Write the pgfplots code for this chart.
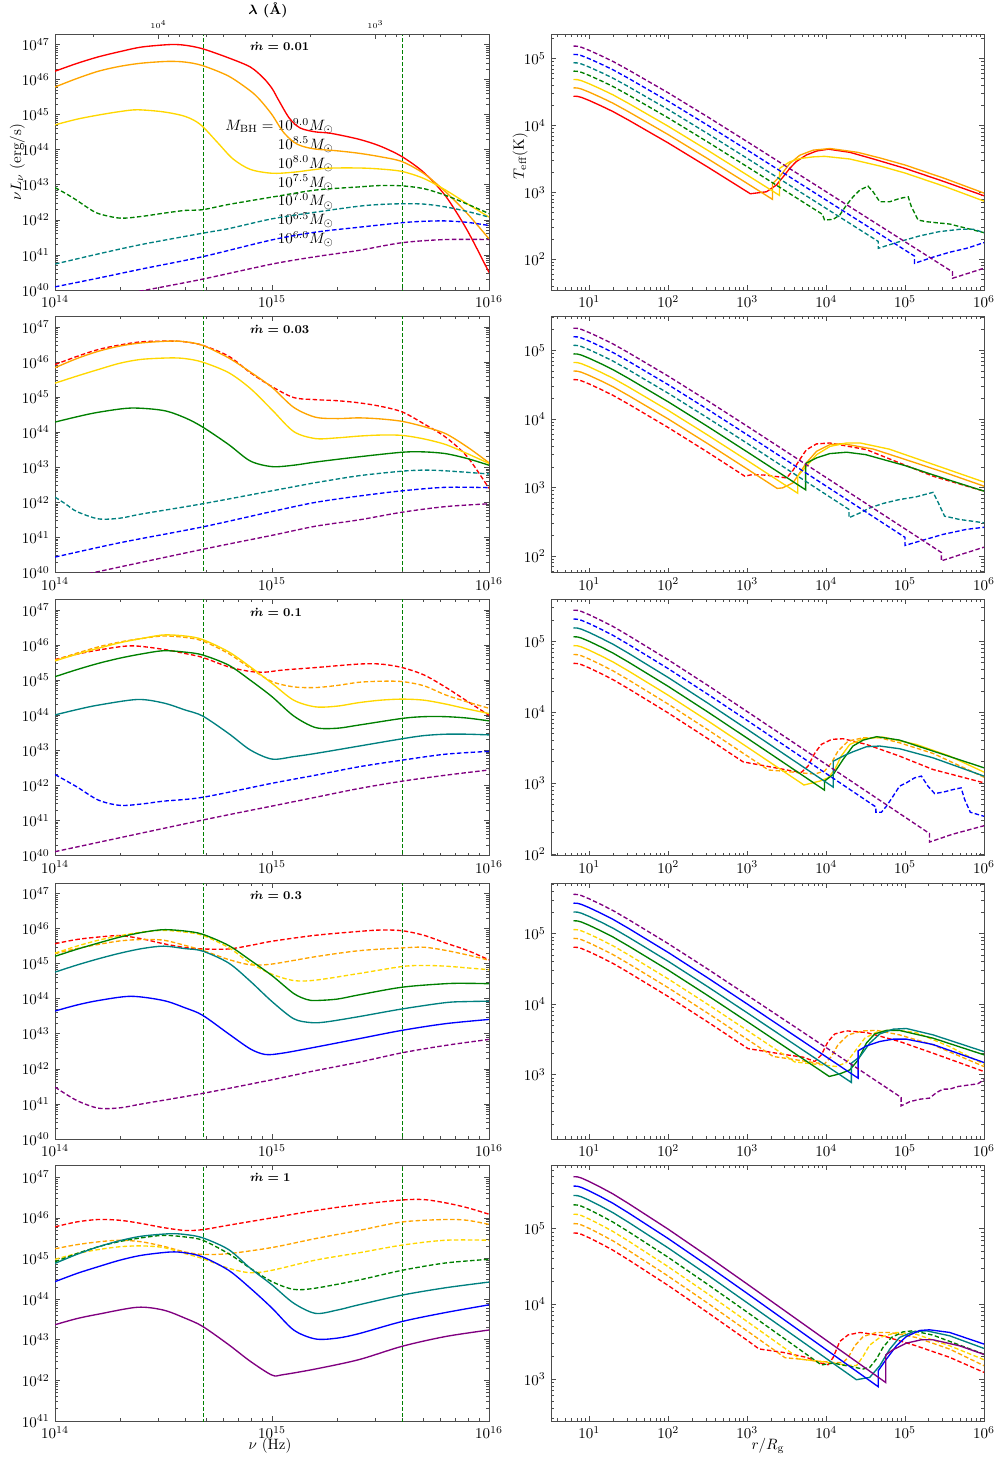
\documentclass[border=0pt]{standalone}
\usepackage{pgfplots}
\pgfplotsset{compat=1.18}
\definecolor{cR}{HTML}{FF0000}
\definecolor{cO}{HTML}{FFA500}
\definecolor{cY}{HTML}{FFD700}
\definecolor{cG}{HTML}{008000}
\definecolor{cT}{HTML}{008080}
\definecolor{cB}{HTML}{0000FF}
\definecolor{cP}{HTML}{800080}
\tikzset{ds/.style={dash pattern=on 3pt off 1.6pt},
  mdot/.style={anchor=west, font=\footnotesize\bfseries\boldmath, inner sep=0pt}}
\pgfplotsset{
  base/.style={scale only axis, anchor=north west, height=170.67pt,
    axis line style={black!70, line width=0.5pt},
    tick style={black!70, line width=0.5pt},
    major tick length=3.2pt, minor tick length=1.8pt, tick align=inside,
    yticklabel={$10^{\pgfmathprintnumber[fixed,precision=0]{\tick}}$},
    every axis plot/.append style={line width=0.9pt},
  },
  L/.style={base, width=289.33pt, xmin=14, xmax=16, ymax=47.301,
    xtick={14,15,16}, xticklabels={$10^{14}$,$10^{15}$,$10^{16}$},
    minor xtick={14.301,14.477,14.602,14.699,14.778,14.845,14.903,14.954,15.301,15.477,15.602,15.699,15.778,15.845,15.903,15.954},
    ytick={40,41,42,43,44,45,46,47},
    minor ytick={40.301,40.477,40.602,40.699,40.778,40.845,40.903,40.954,41.301,41.477,41.602,41.699,41.778,41.845,41.903,41.954,42.301,42.477,42.602,42.699,42.778,42.845,42.903,42.954,43.301,43.477,43.602,43.699,43.778,43.845,43.903,43.954,44.301,44.477,44.602,44.699,44.778,44.845,44.903,44.954,45.301,45.477,45.602,45.699,45.778,45.845,45.903,45.954,46.301,46.477,46.602,46.699,46.778,46.845,46.903,46.954},
    every axis plot/.append style={smooth},
  },
  R/.style={base, width=288.67pt, xmin=0.515, xmax=6,
    xtick={1,2,3,4,5,6}, xticklabels={$10^{1}$,$10^{2}$,$10^{3}$,$10^{4}$,$10^{5}$,$10^{6}$},
    minor xtick={0.602,0.699,0.778,0.845,0.903,0.954,1.301,1.477,1.602,1.699,1.778,1.845,1.903,1.954,2.301,2.477,2.602,2.699,2.778,2.845,2.903,2.954,3.301,3.477,3.602,3.699,3.778,3.845,3.903,3.954,4.301,4.477,4.602,4.699,4.778,4.845,4.903,4.954,5.301,5.477,5.602,5.699,5.778,5.845,5.903,5.954},
    ytick={2,3,4,5},
    minor ytick={1.602,1.699,1.778,1.845,1.903,1.954,2.301,2.477,2.602,2.699,2.778,2.845,2.903,2.954,3.301,3.477,3.602,3.699,3.778,3.845,3.903,3.954,4.301,4.477,4.602,4.699,4.778,4.845,4.903,4.954,5.301,5.477,5.602,5.699,5.778,5.845},
  },
}
\newcommand{\vlines}{%
  \addplot[draw=none, forget plot] coordinates {(15,44)};
  \addplot[cG,sharp plot,dash pattern=on 2.6pt off 1.4pt,line width=0.65pt] coordinates {(14.686,38)(14.686,48)};
  \addplot[cG,sharp plot,dash pattern=on 2.6pt off 1.4pt,line width=0.65pt] coordinates {(15.6,38)(15.6,48)};}
\begin{document}
\begin{tikzpicture}
\useasboundingbox (0,0) rectangle (665.33pt,-972.67pt);
\node[font=\small\bfseries\boldmath, inner sep=0pt] at (178.67pt,-6.9pt) {$\lambda$ (\AA)};
\begin{scope}[every node/.style={anchor=base east, inner sep=0pt, font=\fontsize{10.4}{12.5}\selectfont}]
\node at (222.7pt,-87.1pt) {$M_{\mathrm{BH}}=10^{9.0}M_{\odot}$};
\node at (222.7pt,-99.6pt) {$10^{8.5}M_{\odot}$};
\node at (222.7pt,-112.2pt) {$10^{8.0}M_{\odot}$};
\node at (222.7pt,-124.7pt) {$10^{7.5}M_{\odot}$};
\node at (222.7pt,-137.2pt) {$10^{7.0}M_{\odot}$};
\node at (222.7pt,-149.8pt) {$10^{6.5}M_{\odot}$};
\node at (222.7pt,-162.3pt) {$10^{6.0}M_{\odot}$};
\end{scope}
\node[rotate=90, inner sep=0pt] at (11.5pt,-108pt) {$\nu L_\nu\ (\mathrm{erg/s})$};
\node[rotate=90, inner sep=0pt] at (346.7pt,-104pt) {$T_{\mathrm{eff}}(\mathrm{K})$};
\node[inner sep=0pt] at (180pt,-964pt) {$\nu\ (\mathrm{Hz})$};
\node[inner sep=0pt] at (512pt,-964pt) {$r/R_{\mathrm{g}}$};
% ================= LEFT 1 =================
\begin{axis}[L, at={(36.67pt,-22.67pt)}, ymin=40, xtick pos=left]
\vlines
\addplot[cR] coordinates {(14,46.24)(14.1,46.46)(14.2,46.65)(14.3,46.8)(14.4,46.93)(14.53,47.0)(14.6,46.98)(14.68,46.88)(14.8,46.62)(14.9,46.36)(14.96,46.05)(15.0,45.75)(15.03,45.42)(15.08,44.9)(15.13,44.62)(15.2,44.51)(15.27,44.47)(15.4,44.3)(15.5,44.1)(15.6,43.8)(15.7,43.35)(15.8,42.68)(15.9,41.7)(16,40.5)};
\addplot[cO] coordinates {(14,45.79)(14.1,46.03)(14.2,46.24)(14.3,46.38)(14.4,46.47)(14.52,46.52)(14.6,46.5)(14.68,46.4)(14.8,46.1)(14.9,45.68)(14.945,45.42)(15.0,45.0)(15.05,44.52)(15.1,44.22)(15.14,44.1)(15.2,44.02)(15.3,43.97)(15.4,43.9)(15.5,43.8)(15.6,43.66)(15.7,43.32)(15.8,42.8)(15.9,42.18)(16,41.46)};
\addplot[cY] coordinates {(14,44.71)(14.1,44.87)(14.2,44.99)(14.3,45.09)(14.38,45.14)(14.5,45.08)(14.6,44.95)(14.67,44.72)(14.75,44.2)(14.82,43.74)(14.9,43.44)(15.0,43.33)(15.1,43.36)(15.25,43.47)(15.4,43.48)(15.5,43.45)(15.6,43.38)(15.7,43.18)(15.8,42.85)(15.9,42.46)(16,42.08)};
\addplot[cG,ds] coordinates {(14,42.92)(14.05,42.75)(14.1,42.56)(14.15,42.35)(14.2,42.18)(14.3,42.05)(14.4,42.1)(14.5,42.19)(14.6,42.27)(14.68,42.29)(14.8,42.44)(15.0,42.65)(15.2,42.85)(15.4,42.94)(15.5,42.98)(15.6,42.97)(15.7,42.89)(15.8,42.7)(15.9,42.45)(16,42.18)};
\addplot[cT,ds] coordinates {(14,40.74)(14.2,41.03)(14.4,41.3)(14.68,41.62)(14.8,41.75)(15.0,42.03)(15.2,42.22)(15.4,42.39)(15.5,42.44)(15.6,42.46)(15.7,42.45)(15.8,42.37)(15.9,42.24)(16,42.08)};
\addplot[cB,ds] coordinates {(14,40.09)(14.2,40.34)(14.4,40.6)(14.68,40.95)(15.0,41.43)(15.2,41.65)(15.4,41.79)(15.6,41.92)(15.7,41.96)(15.8,41.97)(15.9,41.93)(16,41.84)};
\addplot[cP,ds] coordinates {(14.2,39.75)(14.42,40.0)(14.68,40.31)(15.0,40.74)(15.2,40.95)(15.4,41.13)(15.6,41.35)(15.8,41.44)(16,41.44)};
\node[mdot] at (rel axis cs:0.449,0.95) {$\dot m = 0.01$};
\end{axis}
\begin{axis}[at={(36.67pt,-22.67pt)}, anchor=north west, scale only axis, width=289.33pt, height=170.67pt,
  xmin=14, xmax=16, ymin=0, ymax=1, axis x line*=top, axis y line=none,
  axis line style={black!70, line width=0.5pt}, tick style={black!70, line width=0.5pt},
  major tick length=3.2pt, minor tick length=1.8pt, tick align=inside,
  xtick={14.477,15.477}, xticklabels={$10^4$,$10^3$}, xticklabel style={font=\tiny},
  minor xtick={14.0,14.176,14.523,14.574,14.632,14.699,14.778,14.875,15.0,15.176,15.523,15.574,15.632,15.699,15.778,15.875,16.0}]
\addplot[draw=none] coordinates {(14,0)(16,1)};
\end{axis}
% ================= LEFT 2 =================
\begin{axis}[L, at={(36.67pt,-211pt)}, ymin=40]
\vlines
\addplot[cR,ds] coordinates {(14,45.93)(14.1,46.16)(14.2,46.36)(14.3,46.49)(14.4,46.58)(14.53,46.6)(14.6,46.58)(14.68,46.48)(14.8,46.17)(14.9,45.7)(15.0,45.3)(15.1,44.99)(15.2,44.93)(15.3,44.9)(15.4,44.84)(15.5,44.74)(15.6,44.58)(15.7,44.24)(15.8,43.86)(15.9,43.3)(16,42.4)};
\addplot[cO] coordinates {(14,45.84)(14.1,46.1)(14.2,46.31)(14.3,46.46)(14.4,46.55)(14.53,46.6)(14.6,46.58)(14.68,46.48)(14.8,46.12)(14.9,45.72)(15.0,45.28)(15.1,44.71)(15.2,44.43)(15.3,44.39)(15.4,44.41)(15.5,44.38)(15.6,44.31)(15.7,44.16)(15.8,43.96)(15.9,43.58)(16,43.13)};
\addplot[cY] coordinates {(14,45.4)(14.1,45.6)(14.2,45.79)(14.3,45.97)(14.4,46.08)(14.53,46.12)(14.6,46.1)(14.68,46.0)(14.8,45.7)(14.9,45.25)(15.0,44.64)(15.1,44.02)(15.2,43.82)(15.3,43.84)(15.4,43.89)(15.5,43.92)(15.6,43.91)(15.7,43.81)(15.8,43.65)(15.9,43.39)(16,43.11)};
\addplot[cG] coordinates {(14,44.29)(14.1,44.44)(14.2,44.57)(14.35,44.69)(14.5,44.62)(14.6,44.41)(14.68,44.15)(14.8,43.65)(14.9,43.18)(15.0,43.02)(15.1,43.06)(15.2,43.15)(15.4,43.3)(15.6,43.43)(15.7,43.44)(15.8,43.39)(15.9,43.25)(16,43.06)};
\addplot[cT,ds] coordinates {(14,42.15)(14.05,41.95)(14.1,41.74)(14.2,41.53)(14.3,41.55)(14.4,41.67)(14.68,41.96)(15.0,42.33)(15.2,42.56)(15.4,42.76)(15.6,42.89)(15.7,42.92)(15.8,42.9)(16,42.81)};
\addplot[cB,ds] coordinates {(14,40.44)(14.3,40.85)(14.68,41.3)(15.0,41.74)(15.2,42.0)(15.4,42.18)(15.6,42.33)(15.8,42.43)(16,42.42)};
\addplot[cP,ds] coordinates {(14.0,39.75)(14.18,40.0)(14.68,40.66)(15.0,41.06)(15.2,41.32)(15.4,41.5)(15.6,41.72)(15.8,41.88)(16,41.96)};
\node[mdot] at (rel axis cs:0.449,0.95) {$\dot m = 0.03$};
\end{axis}
% ================= LEFT 3 =================
\begin{axis}[L, at={(36.67pt,-399.67pt)}, ymin=40]
\vlines
\addplot[cR,ds] coordinates {(14,45.59)(14.1,45.74)(14.2,45.86)(14.35,45.98)(14.5,45.88)(14.6,45.76)(14.68,45.65)(14.8,45.38)(14.9,45.25)(14.97,45.23)(15.05,45.29)(15.2,45.36)(15.4,45.46)(15.5,45.46)(15.6,45.36)(15.7,45.15)(15.8,44.8)(15.9,44.4)(16,44.0)};
\addplot[cO,ds] coordinates {(14,45.57)(14.1,45.77)(14.2,45.95)(14.3,46.09)(14.4,46.19)(14.5,46.26)(14.6,46.22)(14.68,46.12)(14.8,45.76)(14.9,45.34)(15.0,44.96)(15.1,44.81)(15.2,44.79)(15.3,44.85)(15.4,44.94)(15.5,44.97)(15.6,44.96)(15.7,44.84)(15.8,44.58)(15.9,44.38)(16,44.2)};
\addplot[cY] coordinates {(14,45.55)(14.1,45.74)(14.2,45.91)(14.3,46.07)(14.4,46.19)(14.5,46.29)(14.6,46.26)(14.68,46.16)(14.8,45.81)(14.9,45.38)(15.0,44.91)(15.1,44.43)(15.2,44.24)(15.3,44.26)(15.4,44.36)(15.5,44.43)(15.6,44.46)(15.7,44.43)(15.8,44.32)(15.9,44.18)(16,44.05)};
\addplot[cG] coordinates {(14,45.1)(14.1,45.3)(14.2,45.48)(14.3,45.63)(14.4,45.75)(14.5,45.84)(14.6,45.8)(14.68,45.72)(14.8,45.43)(14.9,45.0)(15.0,44.53)(15.1,43.98)(15.2,43.65)(15.3,43.63)(15.4,43.72)(15.6,43.91)(15.7,43.96)(15.8,43.96)(15.9,43.92)(16,43.84)};
\addplot[cT] coordinates {(14,44.01)(14.1,44.16)(14.2,44.29)(14.38,44.45)(14.5,44.35)(14.6,44.15)(14.68,43.98)(14.8,43.48)(14.9,43.01)(15.0,42.75)(15.1,42.82)(15.2,42.91)(15.4,43.12)(15.6,43.33)(15.7,43.42)(15.8,43.46)(15.9,43.46)(16,43.44)};
\addplot[cB,ds] coordinates {(14,42.31)(14.1,41.96)(14.2,41.58)(14.3,41.43)(14.4,41.47)(14.5,41.55)(14.68,41.66)(15.0,42.06)(15.2,42.29)(15.4,42.53)(15.6,42.72)(15.8,42.89)(16,42.97)};
\addplot[cP,ds] coordinates {(14,40.11)(14.68,41.01)(15.0,41.41)(15.2,41.66)(15.4,41.91)(15.6,42.12)(15.8,42.29)(16,42.44)};
\node[mdot] at (rel axis cs:0.449,0.95) {$\dot m = 0.1$};
\end{axis}
% ================= LEFT 4 =================
\begin{axis}[L, at={(36.67pt,-588.67pt)}, ymin=40]
\vlines
\addplot[cR,ds] coordinates {(14,45.57)(14.1,45.69)(14.2,45.76)(14.3,45.8)(14.4,45.71)(14.5,45.57)(14.6,45.46)(14.68,45.42)(14.8,45.42)(14.9,45.52)(15.0,45.64)(15.2,45.81)(15.4,45.92)(15.5,45.96)(15.6,45.94)(15.7,45.81)(15.8,45.59)(15.9,45.38)(16,45.11)};
\addplot[cO,ds] coordinates {(14,45.29)(14.1,45.43)(14.2,45.55)(14.3,45.65)(14.4,45.69)(14.5,45.67)(14.6,45.52)(14.68,45.38)(14.8,45.12)(14.9,44.97)(15.0,44.99)(15.2,45.2)(15.4,45.37)(15.6,45.45)(15.7,45.47)(15.8,45.38)(15.9,45.25)(16,45.1)};
\addplot[cY,ds] coordinates {(14,45.3)(14.1,45.5)(14.2,45.67)(14.3,45.8)(14.4,45.9)(14.5,45.95)(14.6,45.9)(14.68,45.81)(14.8,45.46)(14.9,45.02)(15.0,44.7)(15.1,44.52)(15.2,44.53)(15.4,44.72)(15.6,44.92)(15.7,44.95)(15.8,44.93)(15.9,44.88)(16,44.83)};
\addplot[cG] coordinates {(14,45.21)(14.1,45.41)(14.2,45.59)(14.3,45.76)(14.4,45.89)(14.5,45.97)(14.6,45.93)(14.68,45.84)(14.8,45.52)(14.9,45.1)(15.0,44.66)(15.1,44.15)(15.16,43.98)(15.2,43.95)(15.3,43.99)(15.4,44.11)(15.6,44.33)(15.8,44.43)(15.9,44.44)(16,44.43)};
\addplot[cT] coordinates {(14,44.76)(14.1,44.96)(14.2,45.14)(14.3,45.3)(14.4,45.43)(14.5,45.5)(14.6,45.43)(14.68,45.36)(14.8,45.02)(14.9,44.5)(15.0,43.92)(15.1,43.43)(15.18,43.32)(15.25,43.34)(15.4,43.49)(15.6,43.71)(15.8,43.89)(15.9,43.92)(16,43.93)};
\addplot[cB] coordinates {(14,43.65)(14.1,43.82)(14.2,43.95)(14.35,44.07)(14.5,43.95)(14.6,43.74)(14.68,43.53)(14.8,43.0)(14.9,42.57)(14.97,42.41)(15.05,42.45)(15.2,42.62)(15.4,42.86)(15.6,43.1)(15.8,43.29)(16,43.41)};
\addplot[cP,ds] coordinates {(14,41.48)(14.1,41.1)(14.2,40.88)(14.3,40.89)(14.4,41.0)(14.68,41.3)(15.0,41.69)(15.2,41.95)(15.4,42.19)(15.6,42.46)(15.8,42.67)(16,42.84)};
\node[mdot] at (rel axis cs:0.449,0.95) {$\dot m = 0.3$};
\end{axis}
% ================= LEFT 5 =================
\begin{axis}[L, at={(36.67pt,-776.67pt)}, ymin=41]
\vlines
\addplot[cR,ds] coordinates {(14,45.78)(14.1,45.9)(14.2,45.96)(14.3,45.94)(14.4,45.86)(14.5,45.76)(14.6,45.69)(14.68,45.71)(14.8,45.82)(15.0,46.0)(15.2,46.18)(15.4,46.33)(15.6,46.44)(15.7,46.45)(15.8,46.37)(15.9,46.25)(16,46.09)};
\addplot[cO,ds] coordinates {(14,45.24)(14.1,45.34)(14.2,45.41)(14.3,45.45)(14.4,45.41)(14.5,45.3)(14.6,45.16)(14.68,45.1)(14.8,45.12)(15.0,45.27)(15.2,45.49)(15.4,45.69)(15.6,45.9)(15.8,45.96)(15.9,45.94)(16,45.84)};
\addplot[cY,ds] coordinates {(14,44.98)(14.1,45.12)(14.2,45.22)(14.3,45.29)(14.4,45.31)(14.5,45.27)(14.6,45.12)(14.68,45.0)(14.8,44.76)(14.9,44.65)(15.0,44.71)(15.2,44.96)(15.4,45.14)(15.6,45.33)(15.8,45.45)(16,45.45)};
\addplot[cG,ds] coordinates {(14,44.92)(14.1,45.12)(14.2,45.29)(14.3,45.42)(14.4,45.51)(14.5,45.57)(14.6,45.53)(14.68,45.45)(14.8,45.12)(14.9,44.76)(15.0,44.43)(15.1,44.24)(15.2,44.27)(15.4,44.47)(15.6,44.71)(15.8,44.89)(16,44.98)};
\addplot[cT] coordinates {(14,44.88)(14.1,45.1)(14.2,45.29)(14.3,45.44)(14.4,45.55)(14.53,45.61)(14.6,45.59)(14.68,45.51)(14.8,45.22)(14.9,44.76)(15.0,44.35)(15.1,43.9)(15.2,43.65)(15.3,43.73)(15.4,43.86)(15.6,44.1)(15.8,44.28)(16,44.42)};
\addplot[cB] coordinates {(14,44.43)(14.1,44.63)(14.2,44.8)(14.3,44.96)(14.4,45.08)(14.53,45.16)(14.6,45.14)(14.68,45.04)(14.8,44.71)(14.9,44.27)(15.0,43.78)(15.1,43.24)(15.2,43.02)(15.3,43.04)(15.4,43.15)(15.6,43.45)(15.8,43.67)(16,43.86)};
\addplot[cP] coordinates {(14,43.37)(14.1,43.52)(14.2,43.63)(14.38,43.8)(14.5,43.73)(14.6,43.53)(14.68,43.33)(14.8,42.88)(14.9,42.47)(15.0,42.13)(15.05,42.14)(15.2,42.28)(15.4,42.51)(15.6,42.84)(15.8,43.08)(16,43.24)};
\node[mdot] at (rel axis cs:0.449,0.95) {$\dot m = 1$};
\end{axis}
% ================= RIGHT 1 =================
\begin{axis}[R, at={(367.33pt,-22.67pt)}, ymin=1.54, ymax=5.37]
\addplot[cR] coordinates {(0.8,4.44)(0.85,4.437)(0.9,4.422)(1.0,4.375)(1.15,4.295)(1.3,4.21)(1.5,4.08)(2.0,3.74)(2.5,3.38)(3.0,3.01)(3.04,2.98)(3.245,3.01)(3.37,3.11)(3.456,3.234)(3.54,3.36)(3.62,3.46)(3.75,3.56)(3.88,3.62)(4.03,3.647)(4.3,3.6)(4.6,3.5)(5.0,3.36)(5.5,3.16)(6.0,2.95)};
\addplot[cO] coordinates {(0.8,4.565)(0.85,4.562)(0.9,4.547)(1.0,4.5)(1.15,4.42)(1.3,4.335)(1.5,4.205)(2.0,3.865)(2.5,3.505)(3.0,3.135)(3.32,2.897)(3.32,3.13)(3.41,3.234)(3.54,3.433)(3.667,3.557)(3.835,3.632)(4.05,3.657)(4.4,3.6)(4.7,3.51)(5.0,3.41)(5.5,3.21)(6.0,2.99)};
\addplot[cY] coordinates {(0.8,4.69)(0.85,4.687)(0.9,4.672)(1.0,4.625)(1.15,4.545)(1.3,4.46)(1.5,4.33)(2.0,3.99)(2.5,3.63)(3.0,3.26)(3.41,2.955)(3.41,3.36)(3.54,3.458)(3.667,3.507)(3.835,3.532)(3.98,3.54)(4.3,3.5)(4.7,3.39)(5.0,3.29)(5.5,3.09)(6.0,2.87)};
\addplot[cG,ds] coordinates {(0.8,4.815)(0.85,4.812)(0.9,4.797)(1.0,4.75)(1.15,4.67)(1.3,4.585)(1.5,4.455)(2.0,4.115)(2.5,3.755)(3.0,3.385)(3.954,2.672)(3.98,2.587)(4.089,2.597)(4.173,2.662)(4.257,2.81)(4.342,2.935)(4.426,3.035)(4.53,3.095)(4.595,3.01)(4.68,2.86)(4.806,2.86)(4.93,2.91)(5.04,2.935)(5.08,2.786)(5.165,2.587)(5.27,2.562)(5.565,2.527)(6.0,2.398)};
\addplot[cT,ds] coordinates {(0.8,4.94)(0.85,4.937)(0.9,4.922)(1.0,4.875)(1.15,4.795)(1.3,4.71)(1.5,4.58)(2.0,4.24)(2.5,3.88)(3.0,3.51)(4.66,2.267)(4.66,2.164)(4.93,2.264)(5.18,2.348)(5.43,2.413)(5.69,2.448)(5.86,2.45)(6.0,2.40)};
\addplot[cB,ds] coordinates {(0.8,5.065)(0.85,5.062)(0.9,5.047)(1.0,5.0)(1.15,4.92)(1.3,4.835)(1.5,4.705)(2.0,4.365)(2.5,4.005)(3.0,3.635)(5.12,2.047)(5.12,1.94)(5.35,2.03)(5.56,2.104)(5.78,2.164)(6.0,2.249)};
\addplot[cP,ds] coordinates {(0.8,5.19)(0.85,5.187)(0.9,5.172)(1.0,5.125)(1.15,5.045)(1.3,4.96)(1.5,4.83)(2.0,4.49)(2.5,4.13)(3.0,3.76)(5.6,1.812)(5.6,1.716)(5.8,1.79)(6.0,1.866)};
\end{axis}
% ================= RIGHT 2 =================
\begin{axis}[R, at={(367.33pt,-211pt)}, ymin=1.76, ymax=5.495]
\addplot[cR,ds] coordinates {(0.8,4.575)(0.85,4.572)(0.9,4.557)(1.0,4.51)(1.15,4.43)(1.3,4.345)(1.5,4.215)(2.0,3.875)(2.5,3.515)(2.97,3.165)(3.07,3.19)(3.24,3.18)(3.5,3.14)(3.58,3.25)(3.667,3.41)(3.75,3.55)(3.878,3.636)(4.046,3.65)(4.51,3.553)(4.93,3.359)(5.354,3.165)(6.0,2.947)};
\addplot[cO] coordinates {(0.8,4.70)(0.85,4.697)(0.9,4.682)(1.0,4.635)(1.15,4.555)(1.3,4.47)(1.5,4.34)(2.0,4.0)(2.5,3.64)(3.0,3.27)(3.38,2.987)(3.45,2.995)(3.58,3.068)(3.667,3.215)(3.75,3.36)(3.88,3.53)(4.05,3.627)(4.21,3.64)(4.6,3.56)(5.0,3.41)(5.5,3.22)(6.0,3.02)};
\addplot[cY] coordinates {(0.8,4.825)(0.85,4.822)(0.9,4.807)(1.0,4.76)(1.15,4.68)(1.3,4.595)(1.5,4.465)(2.0,4.125)(2.5,3.765)(3.0,3.395)(3.64,2.917)(3.64,3.165)(3.75,3.31)(3.88,3.48)(4.05,3.6)(4.26,3.65)(4.43,3.65)(4.8,3.56)(5.2,3.40)(5.6,3.24)(6.0,3.08)};
\addplot[cG] coordinates {(0.8,4.95)(0.85,4.947)(0.9,4.932)(1.0,4.885)(1.15,4.805)(1.3,4.72)(1.5,4.59)(2.0,4.25)(2.5,3.89)(3.0,3.52)(3.74,2.967)(3.74,3.35)(3.878,3.432)(4.046,3.495)(4.26,3.515)(4.5,3.48)(5.0,3.32)(5.5,3.13)(6.0,2.947)};
\addplot[cT,ds] coordinates {(0.8,5.075)(0.85,5.072)(0.9,5.057)(1.0,5.01)(1.15,4.93)(1.3,4.845)(1.5,4.715)(2.0,4.375)(2.5,4.015)(3.0,3.645)(4.29,2.68)(4.29,2.56)(4.43,2.63)(4.55,2.70)(4.72,2.767)(4.93,2.825)(5.14,2.864)(5.355,2.93)(5.42,2.78)(5.50,2.583)(5.69,2.534)(6.0,2.485)};
\addplot[cB,ds] coordinates {(0.8,5.2)(0.85,5.197)(0.9,5.182)(1.0,5.135)(1.15,5.055)(1.3,4.97)(1.5,4.84)(2.0,4.5)(2.5,4.14)(3.0,3.77)(5.0,2.272)(5.0,2.155)(5.23,2.233)(5.48,2.316)(5.78,2.39)(6.0,2.42)};
\addplot[cP,ds] coordinates {(0.8,5.325)(0.85,5.322)(0.9,5.307)(1.0,5.26)(1.15,5.18)(1.3,5.095)(1.5,4.965)(2.0,4.625)(2.5,4.265)(3.0,3.895)(5.46,2.052)(5.46,1.93)(5.7,2.02)(6.0,2.13)};
\end{axis}
% ================= RIGHT 3 =================
\begin{axis}[R, at={(367.33pt,-399.67pt)}, ymin=1.98, ymax=5.59]
\addplot[cR,ds] coordinates {(0.8,4.69)(0.85,4.687)(0.9,4.672)(1.0,4.625)(1.15,4.545)(1.3,4.46)(1.5,4.33)(2.0,3.99)(2.5,3.63)(2.95,3.30)(3.245,3.24)(3.58,3.17)(3.69,3.156)(3.77,3.24)(3.86,3.43)(3.94,3.547)(4.07,3.618)(4.215,3.627)(4.51,3.547)(4.93,3.382)(5.354,3.193)(6.0,3.005)};
\addplot[cO,ds] coordinates {(0.8,4.815)(0.85,4.812)(0.9,4.797)(1.0,4.75)(1.15,4.67)(1.3,4.585)(1.5,4.455)(2.0,4.115)(2.5,3.755)(3.0,3.385)(3.27,3.186)(3.456,3.17)(3.667,3.146)(3.857,3.13)(3.98,3.17)(4.07,3.29)(4.15,3.453)(4.28,3.594)(4.47,3.64)(4.68,3.64)(4.93,3.57)(5.354,3.42)(6.0,3.085)};
\addplot[cY] coordinates {(0.8,4.94)(0.85,4.937)(0.9,4.922)(1.0,4.875)(1.15,4.795)(1.3,4.71)(1.5,4.58)(2.0,4.24)(2.5,3.88)(3.0,3.51)(3.72,2.974)(3.92,3.03)(4.025,3.075)(4.11,3.193)(4.19,3.38)(4.30,3.547)(4.47,3.627)(4.72,3.65)(5.14,3.547)(5.565,3.382)(6.0,3.156)};
\addplot[cG] coordinates {(0.8,5.065)(0.85,5.062)(0.9,5.047)(1.0,5.0)(1.15,4.92)(1.3,4.835)(1.5,4.705)(2.0,4.365)(2.5,4.005)(3.0,3.635)(3.98,2.902)(3.98,3.03)(4.09,3.123)(4.215,3.335)(4.34,3.524)(4.47,3.608)(4.64,3.656)(4.93,3.608)(5.354,3.453)(6.0,3.217)};
\addplot[cT] coordinates {(0.8,5.19)(0.85,5.187)(0.9,5.172)(1.0,5.125)(1.15,5.045)(1.3,4.96)(1.5,4.83)(2.0,4.49)(2.5,4.13)(3.0,3.76)(4.09,2.945)(4.09,3.31)(4.215,3.382)(4.34,3.443)(4.51,3.514)(4.68,3.524)(4.93,3.486)(5.354,3.358)(6.0,3.10)};
\addplot[cB,ds] coordinates {(0.8,5.315)(0.85,5.312)(0.9,5.297)(1.0,5.25)(1.15,5.17)(1.3,5.085)(1.5,4.955)(2.0,4.615)(2.5,4.255)(3.0,3.885)(4.63,2.665)(4.63,2.59)(4.70,2.59)(4.764,2.675)(4.848,2.816)(4.93,2.958)(5.017,3.005)(5.12,3.075)(5.207,3.10)(5.29,2.958)(5.375,2.854)(5.48,2.873)(5.607,2.91)(5.71,2.934)(5.755,2.77)(5.827,2.59)(6.0,2.533)};
\addplot[cP,ds] coordinates {(0.8,5.44)(0.85,5.437)(0.9,5.422)(1.0,5.375)(1.15,5.295)(1.3,5.21)(1.5,5.08)(2.0,4.74)(2.5,4.38)(3.0,4.01)(5.31,2.29)(5.31,2.17)(5.6,2.28)(6.0,2.40)};
\end{axis}
% ================= RIGHT 4 =================
\begin{axis}[R, at={(367.33pt,-588.67pt)}, ymin=2.09, ymax=5.72]
\addplot[cR,ds] coordinates {(0.8,4.81)(0.85,4.807)(0.9,4.792)(1.0,4.745)(1.15,4.665)(1.3,4.58)(1.5,4.45)(2.0,4.11)(2.5,3.75)(3.0,3.38)(3.01,3.372)(3.245,3.33)(3.50,3.284)(3.71,3.25)(3.857,3.19)(3.94,3.284)(4.025,3.473)(4.11,3.58)(4.257,3.624)(4.51,3.60)(4.93,3.473)(5.354,3.307)(6.0,3.047)};
\addplot[cO,ds] coordinates {(0.8,4.935)(0.85,4.932)(0.9,4.917)(1.0,4.87)(1.15,4.79)(1.3,4.705)(1.5,4.575)(2.0,4.235)(2.5,3.875)(3.0,3.505)(3.33,3.26)(3.58,3.22)(3.835,3.175)(3.98,3.156)(4.067,3.26)(4.15,3.426)(4.28,3.567)(4.47,3.624)(4.64,3.63)(4.93,3.567)(5.354,3.426)(6.0,3.118)};
\addplot[cY,ds] coordinates {(0.8,5.06)(0.85,5.057)(0.9,5.042)(1.0,4.995)(1.15,4.915)(1.3,4.83)(1.5,4.70)(2.0,4.36)(2.5,4.0)(3.0,3.63)(3.60,3.184)(3.75,3.165)(3.96,3.14)(4.13,3.118)(4.257,3.175)(4.363,3.33)(4.49,3.52)(4.637,3.605)(4.85,3.638)(5.14,3.60)(5.565,3.40)(6.0,3.15)};
\addplot[cG] coordinates {(0.8,5.185)(0.85,5.182)(0.9,5.167)(1.0,5.12)(1.15,5.04)(1.3,4.955)(1.5,4.825)(2.0,4.485)(2.5,4.125)(3.0,3.755)(4.04,2.977)(4.173,3.014)(4.30,3.07)(4.405,3.21)(4.51,3.45)(4.616,3.58)(4.764,3.63)(4.93,3.63)(5.354,3.52)(6.0,3.284)};
\addplot[cT] coordinates {(0.8,5.31)(0.85,5.307)(0.9,5.292)(1.0,5.245)(1.15,5.165)(1.3,5.08)(1.5,4.95)(2.0,4.61)(2.5,4.25)(3.0,3.88)(4.32,2.892)(4.32,3.165)(4.43,3.26)(4.553,3.45)(4.68,3.58)(4.85,3.648)(5.017,3.657)(5.354,3.567)(6.0,3.33)};
\addplot[cB] coordinates {(0.8,5.435)(0.85,5.432)(0.9,5.417)(1.0,5.37)(1.15,5.29)(1.3,5.205)(1.5,5.075)(2.0,4.735)(2.5,4.375)(3.0,4.005)(4.405,2.953)(4.405,3.34)(4.51,3.41)(4.68,3.473)(4.85,3.506)(5.017,3.506)(5.354,3.43)(6.0,3.175)};
\addplot[cP,ds] coordinates {(0.8,5.56)(0.85,5.557)(0.9,5.542)(1.0,5.495)(1.15,5.415)(1.3,5.33)(1.5,5.2)(2.0,4.86)(2.5,4.5)(3.0,4.13)(4.95,2.68)(4.95,2.56)(5.06,2.62)(5.19,2.655)(5.31,2.67)(5.40,2.75)(5.48,2.797)(5.565,2.797)(5.67,2.835)(5.82,2.858)(5.92,2.872)(6.0,2.93)};
\end{axis}
% ================= RIGHT 5 =================
\begin{axis}[R, at={(367.33pt,-776.67pt)}, ymin=2.44, ymax=5.85]
\addplot[cR,ds] coordinates {(0.8,4.945)(0.85,4.942)(0.9,4.927)(1.0,4.88)(1.15,4.8)(1.3,4.715)(1.5,4.585)(2.0,4.245)(2.5,3.885)(3.0,3.515)(3.15,3.40)(3.456,3.354)(3.75,3.288)(3.94,3.21)(4.025,3.19)(4.09,3.288)(4.173,3.50)(4.28,3.588)(4.43,3.62)(4.72,3.575)(5.14,3.442)(5.565,3.288)(6.0,3.088)};
\addplot[cO,ds] coordinates {(0.8,5.07)(0.85,5.067)(0.9,5.052)(1.0,5.005)(1.15,4.925)(1.3,4.84)(1.5,4.71)(2.0,4.37)(2.5,4.01)(3.0,3.64)(3.48,3.283)(3.667,3.265)(3.878,3.239)(4.09,3.22)(4.215,3.22)(4.28,3.288)(4.363,3.442)(4.47,3.566)(4.637,3.62)(4.806,3.62)(5.14,3.553)(5.565,3.398)(6.0,3.177)};
\addplot[cY,ds] coordinates {(0.8,5.195)(0.85,5.192)(0.9,5.177)(1.0,5.13)(1.15,5.05)(1.3,4.965)(1.5,4.835)(2.0,4.495)(2.5,4.135)(3.0,3.765)(3.67,3.265)(3.878,3.239)(4.09,3.212)(4.257,3.186)(4.384,3.177)(4.468,3.30)(4.55,3.45)(4.68,3.553)(4.89,3.62)(5.14,3.597)(5.565,3.442)(6.0,3.257)};
\addplot[cG,ds] coordinates {(0.8,5.32)(0.85,5.317)(0.9,5.302)(1.0,5.255)(1.15,5.175)(1.3,5.09)(1.5,4.96)(2.0,4.62)(2.5,4.26)(3.0,3.89)(3.94,3.187)(4.09,3.212)(4.30,3.168)(4.468,3.133)(4.553,3.155)(4.637,3.265)(4.72,3.42)(4.827,3.553)(4.975,3.628)(5.10,3.642)(5.354,3.584)(6.0,3.33)};
\addplot[cT] coordinates {(0.8,5.445)(0.85,5.442)(0.9,5.427)(1.0,5.38)(1.15,5.3)(1.3,5.215)(1.5,5.085)(2.0,4.745)(2.5,4.385)(3.0,4.015)(4.384,2.99)(4.553,3.022)(4.68,3.177)(4.806,3.398)(4.93,3.553)(5.10,3.628)(5.27,3.642)(5.565,3.575)(6.0,3.407)};
\addplot[cB] coordinates {(0.8,5.57)(0.85,5.567)(0.9,5.552)(1.0,5.505)(1.15,5.425)(1.3,5.34)(1.5,5.21)(2.0,4.87)(2.5,4.51)(3.0,4.14)(4.66,2.897)(4.66,3.11)(4.764,3.265)(4.89,3.442)(5.017,3.566)(5.186,3.646)(5.31,3.655)(5.565,3.62)(6.0,3.465)};
\addplot[cP] coordinates {(0.8,5.695)(0.85,5.692)(0.9,5.677)(1.0,5.63)(1.15,5.55)(1.3,5.465)(1.5,5.335)(2.0,4.995)(2.5,4.635)(3.0,4.265)(4.755,2.953)(4.755,3.32)(4.848,3.39)(5.017,3.478)(5.207,3.522)(5.354,3.522)(5.69,3.442)(6.0,3.327)};
\end{axis}
\end{tikzpicture}
\end{document}
